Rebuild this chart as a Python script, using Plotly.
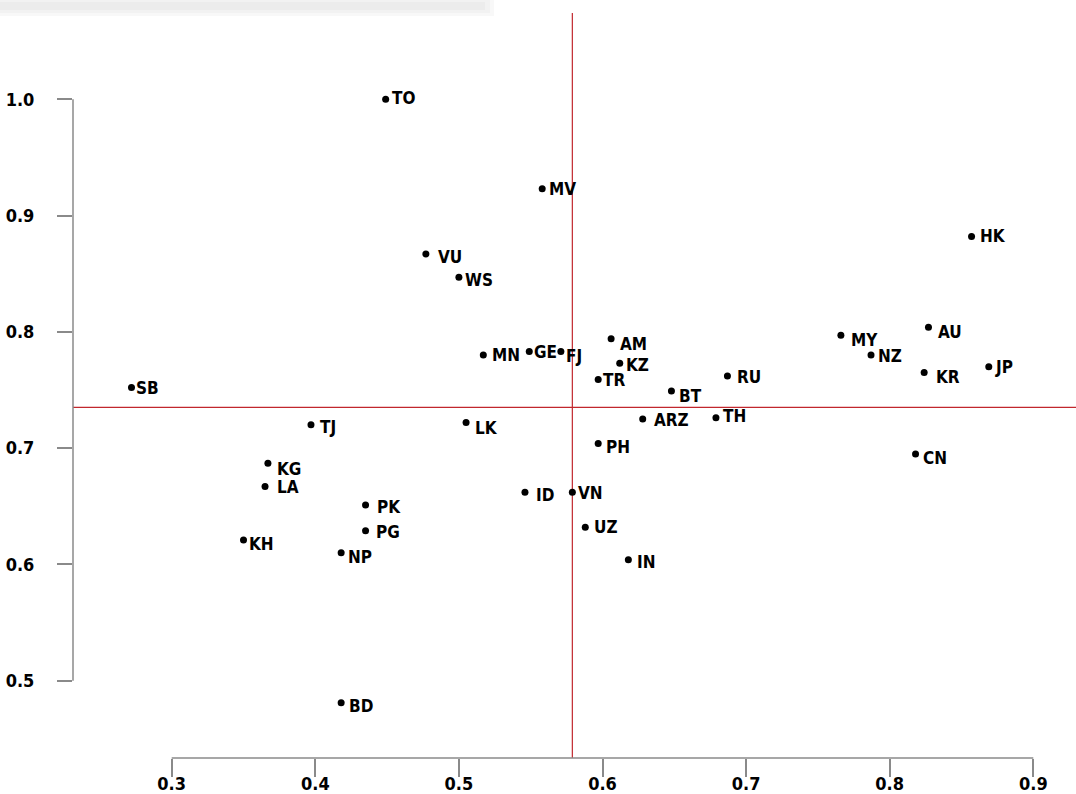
import plotly.graph_objects as go

# ---- data ----
codes = ["TO", "MV", "VU", "WS", "HK", "AU", "MY", "NZ", "KR", "JP", "RU", "TH", "CN",
         "MN", "GE", "FJ", "AM", "KZ", "TR", "BT", "LK", "ARZ", "PH",
         "SB", "TJ", "KG", "LA", "PK", "PG", "KH", "NP",
         "ID", "VN", "UZ", "IN", "BD"]
x_vals = [0.449, 0.558, 0.477, 0.500, 0.857, 0.827, 0.766, 0.787, 0.824, 0.869, 0.687, 0.679, 0.818,
          0.517, 0.549, 0.571, 0.606, 0.612, 0.597, 0.648, 0.505, 0.628, 0.597,
          0.272, 0.397, 0.367, 0.365, 0.435, 0.435, 0.350, 0.418,
          0.546, 0.579, 0.588, 0.618, 0.418]
y_vals = [1.000, 0.923, 0.867, 0.847, 0.882, 0.804, 0.797, 0.780, 0.765, 0.770, 0.762, 0.726, 0.695,
          0.780, 0.783, 0.783, 0.794, 0.773, 0.759, 0.749, 0.722, 0.725, 0.704,
          0.752, 0.720, 0.687, 0.667, 0.651, 0.629, 0.621, 0.610,
          0.662, 0.662, 0.632, 0.604, 0.481]
x_ticks = [0.3, 0.4, 0.5, 0.6, 0.7, 0.8, 0.9]
y_ticks = [0.5, 0.6, 0.7, 0.8, 0.9, 1.0]
x_mean = 0.579
y_mean = 0.735

# ---- label offsets (pixels: right, down) ----
label_dx = [6, 7, 12, 6, 8, 10, 10, 7, 12, 6, 10, 7, 7,
            9, 5, 5, 9, 6, 5, 8, 9, 11, 8,
            5, 9, 9, 12, 11, 10, 5, 7,
            11, 6, 9, 9, 8]
label_dy = [-1, 0, 3, 3, 0, 5, 5, 1, 4, 0, 1, -2, 4,
            0, 0, 4, 5, 2, 1, 5, 5, 1, 4,
            0, 2, 6, 1, 2, 1, 4, 4,
            3, 1, 0, 2, 3]

W, H = 1076, 794
ML, MR, MT, MB = 73, 0, 13, 36
PW, PH = W - ML - MR, H - MT - MB

def px_x(px):
    return (px - ML) / PW

def px_y(py):
    return (H - MB - py) / PH

FONT = "DejaVu Sans Condensed, sans-serif"
RED = "#c1272d"
GRAY = "#8a8a8a"

fig = go.Figure()
fig.add_trace(go.Scatter(
    x=x_vals, y=y_vals, mode="markers",
    marker=dict(size=7, color="black"),
    hoverinfo="text", text=codes, showlegend=False,
))

for c, xv, yv, dx, dy in zip(codes, x_vals, y_vals, label_dx, label_dy):
    fig.add_annotation(
        x=xv, y=yv, xref="x", yref="y", text=c, showarrow=False,
        xanchor="left", yanchor="middle", xshift=dx - 2, yshift=-dy,
        font=dict(family=FONT, size=17, color="black", weight="bold"),
    )

shapes = []
# soft shadow bar at the top
for (x1, y0, y1, col) in [(494, 0, 16, "#f8f8f8"), (490, 0, 13, "#f2f2f2"), (485, 2, 10, "#ececec")]:
    shapes.append(dict(type="rect", xref="paper", yref="paper",
                       x0=px_x(0), x1=px_x(x1), y0=px_y(y1), y1=px_y(y0),
                       line=dict(width=0), fillcolor=col, layer="below"))
# axis lines (span only between first and last tick)
shapes.append(dict(type="line", xref="paper", yref="y", x0=0, x1=0,
                   y0=y_ticks[0], y1=y_ticks[-1], line=dict(color=GRAY, width=1.5)))
shapes.append(dict(type="line", xref="x", yref="paper", x0=x_ticks[0], x1=x_ticks[-1],
                   y0=0, y1=0, line=dict(color=GRAY, width=1.5)))
# mean lines
shapes.append(dict(type="line", xref="x", yref="paper", x0=x_mean, x1=x_mean, y0=0, y1=1,
                   line=dict(color=RED, width=1.2), layer="below"))
shapes.append(dict(type="line", xref="paper", yref="y", x0=0, x1=1, y0=y_mean, y1=y_mean,
                   line=dict(color=RED, width=1.2), layer="below"))

tickfont = dict(family=FONT, size=18, color="black", weight="bold")

fig.update_layout(
    width=W, height=H,
    margin=dict(l=ML, r=MR, t=MT, b=MB, pad=0),
    paper_bgcolor="white", plot_bgcolor="white",
    shapes=shapes,
    xaxis=dict(range=[0.3 - (171.7 - ML) / 1436, 0.3 + (W - 171.7) / 1436],
               tickvals=x_ticks, ticktext=[f"{v:.1f}" for v in x_ticks],
               ticks="outside", ticklen=18, tickwidth=1.5, tickcolor=GRAY,
               tickfont=tickfont, showgrid=False, zeroline=False, showline=False,
               automargin=False, ticklabelstandoff=-9),
    yaxis=dict(range=[1.0 - (H - MB - 99.2) / 1163, 1.0 + (99.2 - MT) / 1163],
               tickvals=y_ticks, ticktext=[f"{v:.1f}" for v in y_ticks],
               ticks="outside", ticklen=15, tickwidth=1.5, tickcolor=GRAY,
               tickfont=tickfont, showgrid=False, zeroline=False, showline=False,
               automargin=False, ticklabelstandoff=19),
)

fig.write_html("out.html", config={"displayModeBar": False},
               post_script="document.body.style.margin='0';document.body.style.overflow='hidden';")
